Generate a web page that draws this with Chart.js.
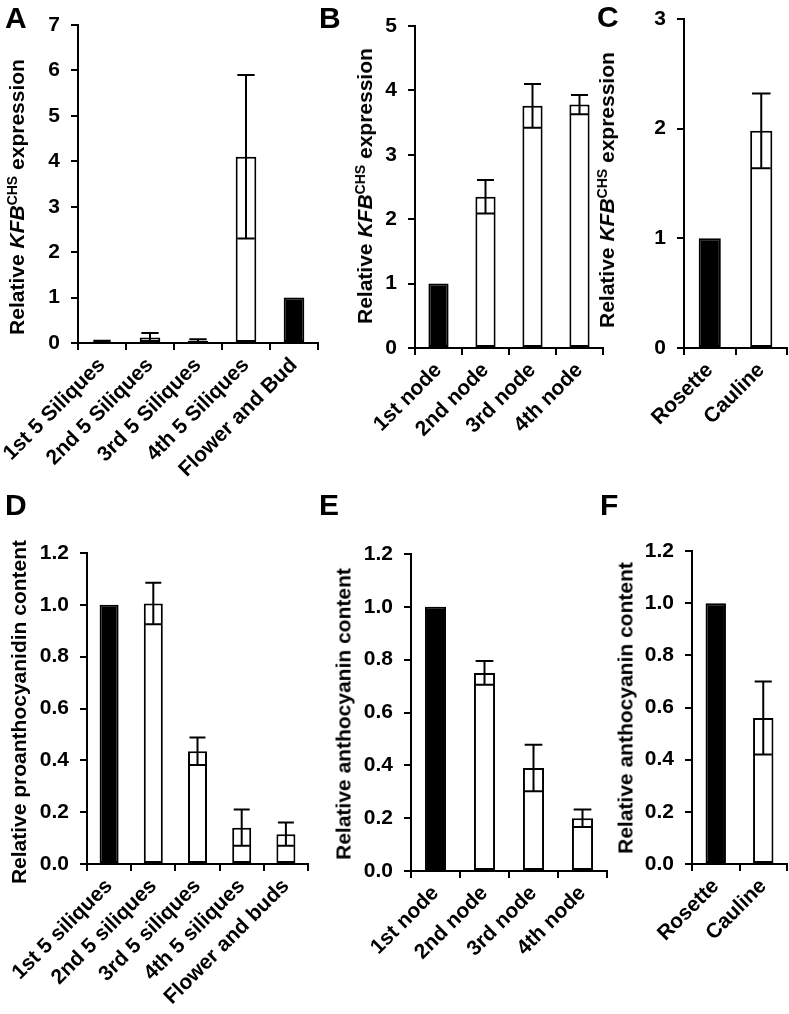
<!DOCTYPE html>
<html>
<head>
<meta charset="utf-8">
<script src="https://cdn.jsdelivr.net/npm/chart.js@4/dist/chart.umd.min.js"></script>
<style>
  body { margin: 0; background: #fff; }
  #fig { position: relative; width: 789px; height: 1014px; overflow: hidden;
         font-family: "Liberation Sans", Arial, sans-serif; font-weight: bold; color: #000; }
  .panel { position: absolute; }
  .letter { position: absolute; font-size: 30px; line-height: 1; }
  .ytitle { position: absolute; font-size: 21px; white-space: nowrap; line-height: 1;
            transform: translate(-50%, -50%) rotate(-90deg); }
  .ytitle sup { font-size: 14px; vertical-align: 7px; }
</style>
</head>
<body>
<div id="fig">
  <canvas id="chartA" class="panel"></canvas>
  <canvas id="chartB" class="panel"></canvas>
  <canvas id="chartC" class="panel"></canvas>
  <canvas id="chartD" class="panel"></canvas>
  <canvas id="chartE" class="panel"></canvas>
  <canvas id="chartF" class="panel"></canvas>

  <div class="letter" style="left:5px; top:3px;">A</div>
  <div class="letter" style="left:319px; top:3px;">B</div>
  <div class="letter" style="left:597px; top:2px;">C</div>
  <div class="letter" style="left:5px; top:490px;">D</div>
  <div class="letter" style="left:319px; top:490px;">E</div>
  <div class="letter" style="left:600px; top:490px;">F</div>

  <div class="ytitle" style="left:16px; top:197px;">Relative <i>KFB</i><sup>CHS</sup> expression</div>
  <div class="ytitle" style="left:364px; top:186px;">Relative <i>KFB</i><sup>CHS</sup> expression</div>
  <div class="ytitle" style="left:606px; top:190px;">Relative <i>KFB</i><sup>CHS</sup> expression</div>
  <div class="ytitle" style="left:18px; top:712px;">Relative proanthocyanidin content</div>
  <div class="ytitle" style="left:343px; top:714px;">Relative anthocyanin content</div>
  <div class="ytitle" style="left:625px; top:708px;">Relative anthocyanin content</div>
</div>

<script>
// ---- data ----
const aLabels = ['1st 5 Siliques', '2nd 5 Siliques', '3rd 5 Siliques', '4th 5 Siliques', 'Flower and Bud'];
const aValues = [0.03, 0.12, 0.05, 4.1, 1.0];
const aErrors = [0.02, 0.1, 0.03, 1.8, 0];
const aControl = 4;

const bLabels = ['1st node', '2nd node', '3rd node', '4th node'];
const bValues = [1.0, 2.35, 3.76, 3.78];
const bErrors = [0, 0.26, 0.34, 0.15];
const bControl = 0;

const cLabels = ['Rosette', 'Cauline'];
const cValues = [1.0, 1.98];
const cErrors = [0, 0.34];
const cControl = 0;

const dLabels = ['1st 5 siliques', '2nd 5 siliques', '3rd 5 siliques', '4th 5 siliques', 'Flower and buds'];
const dValues = [1.0, 1.005, 0.435, 0.14, 0.115];
const dErrors = [0, 0.08, 0.053, 0.07, 0.045];
const dControl = 0;

const eLabels = ['1st node', '2nd node', '3rd node', '4th node'];
const eValues = [1.0, 0.75, 0.39, 0.2];
const eErrors = [0, 0.045, 0.088, 0.033];
const eControl = 0;

const fLabels = ['Rosette', 'Cauline'];
const fValues = [1.0, 0.56];
const fErrors = [0, 0.14];
const fControl = 0;

const FONT = '"Liberation Sans", Arial, sans-serif';

// draws the SD whiskers on top of the bars
const errorBarPlugin = {
    id: 'errorBars',
    afterDatasetsDraw(chart) {
        const ds = chart.data.datasets[0];
        const meta = chart.getDatasetMeta(0);
        const y = chart.scales.y;
        const ctx = chart.ctx;
        ctx.save();
        ctx.strokeStyle = '#000';
        ctx.lineWidth = 2;
        meta.data.forEach((bar, i) => {
            const err = ds.errors[i];
            if (!err) return;
            const v = ds.data[i];
            const top = y.getPixelForValue(v + err);
            const bot = y.getPixelForValue(Math.max(v - err, 0));
            const cap = bar.width * 0.42;
            ctx.beginPath();
            ctx.moveTo(bar.x, top); ctx.lineTo(bar.x, bot);
            ctx.moveTo(bar.x - cap, top); ctx.lineTo(bar.x + cap, top);
            ctx.moveTo(bar.x - cap, bot); ctx.lineTo(bar.x + cap, bot);
            ctx.stroke();
        });
        ctx.restore();
    }
};

function makePanel(id, box, labels, values, errors, control, yMax, step, decimals) {
    const canvas = document.getElementById(id);
    canvas.style.left = box.left + 'px';
    canvas.style.top = box.top + 'px';
    canvas.width = box.w;
    canvas.height = box.h;
    canvas.style.width = box.w + 'px';
    canvas.style.height = box.h + 'px';

    return new Chart(canvas, {
        type: 'bar',
        data: {
            labels: labels,
            datasets: [{
                data: values,
                errors: errors,
                backgroundColor: values.map((v, i) => i === control ? '#000' : '#fff'),
                borderColor: '#000',
                borderWidth: 2,
                borderSkipped: false,
                categoryPercentage: 1,
                barPercentage: 0.43
            }]
        },
        options: {
            responsive: false,
            animation: false,
            events: [],
            layout: { padding: { top: box.padTop, right: box.padRight, left: 0, bottom: 0 } },
            plugins: { legend: { display: false }, tooltip: { enabled: false } },
            scales: {
                x: {
                    grid: { offset: true, drawOnChartArea: false, color: '#000', lineWidth: 2, tickLength: 7 },
                    border: { color: '#000', width: 2 },
                    ticks: {
                        autoSkip: false, minRotation: 45, maxRotation: 45, padding: 3,
                        color: '#000', font: { family: FONT, size: 21, weight: 'bold' }
                    },
                    afterFit(scale) { scale.height = box.xH; scale.paddingLeft = 0; scale.paddingRight = 0; }
                },
                y: {
                    min: 0, max: yMax,
                    grid: { drawOnChartArea: false, color: '#000', lineWidth: 2, tickLength: 7 },
                    border: { color: '#000', width: 2 },
                    ticks: {
                        stepSize: step, padding: 11, color: '#000',
                        font: { family: FONT, size: 21, weight: 'bold' },
                        callback: v => Number(v).toFixed(decimals)
                    },
                    afterFit(scale) { scale.width = box.yW; scale.paddingTop = 0; scale.paddingBottom = 0; }
                }
            }
        },
        plugins: [errorBarPlugin]
    });
}

makePanel('chartA', { left: 0, top: 0, w: 330, h: 500, yW: 78, padTop: 25, padRight: 12, xH: 157 },
    aLabels, aValues, aErrors, aControl, 7, 1, 0);
makePanel('chartB', { left: 330, top: 0, w: 280, h: 500, yW: 85, padTop: 26, padRight: 7, xH: 152 },
    bLabels, bValues, bErrors, bControl, 5, 1, 0);
makePanel('chartC', { left: 610, top: 0, w: 179, h: 500, yW: 74, padTop: 19, padRight: 2, xH: 152 },
    cLabels, cValues, cErrors, cControl, 3, 1, 0);
makePanel('chartD', { left: 0, top: 500, w: 320, h: 514, yW: 87, padTop: 53, padRight: 12, xH: 150 },
    dLabels, dValues, dErrors, dControl, 1.2, 0.2, 1);
makePanel('chartE', { left: 320, top: 500, w: 290, h: 514, yW: 91, padTop: 54, padRight: 3, xH: 143 },
    eLabels, eValues, eErrors, eControl, 1.2, 0.2, 1);
makePanel('chartF', { left: 610, top: 500, w: 179, h: 514, yW: 82, padTop: 51, padRight: 2, xH: 150 },
    fLabels, fValues, fErrors, fControl, 1.2, 0.2, 1);
</script>
</body>
</html>
